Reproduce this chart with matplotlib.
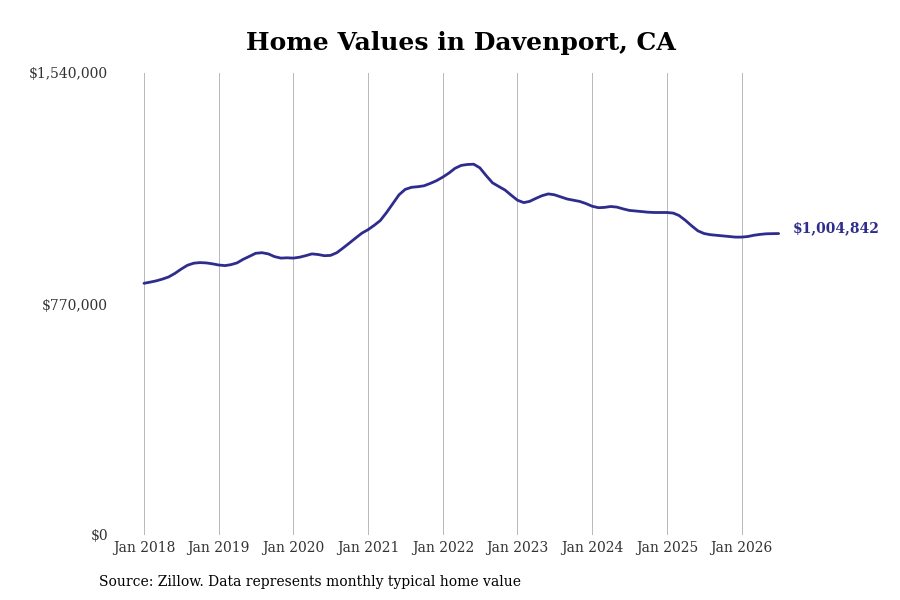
import matplotlib
matplotlib.use("Agg")
import matplotlib.pyplot as plt
import pandas as pd

# monthly typical home value, Jan 2018 .. Jul 2026 (in $ thousands)
months = pd.date_range("2018-01-01", periods=103, freq="MS")
values_k = [
    839, 843, 847, 853, 860, 872, 886, 899, 906, 908, 907, 904,
    900, 898, 901, 907, 919, 929, 939, 941, 937, 928, 923, 924,
    923, 926, 931, 937, 935, 931, 932, 941, 957, 973, 990, 1006,
    1018, 1033, 1048, 1075, 1104, 1134, 1152, 1159, 1161, 1164, 1172, 1181,
    1193, 1207, 1222, 1232, 1235, 1236, 1224, 1198, 1174, 1162, 1150, 1133,
    1116, 1108, 1112, 1122, 1131, 1137, 1134, 1127, 1120, 1116, 1112, 1105,
    1096, 1091, 1092, 1095, 1093, 1087, 1082, 1080, 1078, 1076, 1075, 1075,
    1075, 1073, 1065, 1049, 1031, 1014, 1005, 1001, 999, 997, 995, 993,
    993, 995, 999, 1002, 1004, 1004.5, 1004.842,
]
values = [v * 1000 for v in values_k]

yticks = [0, 770000, 1540000]
ytick_labels = ["$0", "$770,000", "$1,540,000"]
xtick_years = list(range(2018, 2027))

line_color = "#2e2c8c"

plt.rcParams["font.family"] = ["DejaVu Serif"]

fig = plt.figure(figsize=(9, 6), dpi=100)
# axes placed in pixel terms: left 115, right 807, top 73, bottom 535
ax = fig.add_axes([115 / 900, 65 / 600, 692 / 900, 462 / 600])

ax.plot(months, values, color=line_color, linewidth=2, solid_capstyle="round")

# x range chosen so Jan 2018 sits at x=144 and years are ~74.7 px apart
px_per_day = 74.7 / 365.25
start = pd.Timestamp("2018-01-01")
left = start - pd.Timedelta(days=(144 - 115) / px_per_day)
right = start + pd.Timedelta(days=(807 - 144) / px_per_day)
ax.set_xlim(left, right)
ax.set_ylim(0, 1540000)

ax.set_yticks(yticks)
ax.set_yticklabels(ytick_labels)
xt = [pd.Timestamp(f"{y}-01-01") for y in xtick_years]
ax.set_xticks(xt)
ax.set_xticklabels([f"Jan {y}" for y in xtick_years])

ax.tick_params(axis="both", length=0, labelsize=10, labelcolor="#333333")
ax.tick_params(axis="y", pad=5)
ax.tick_params(axis="x", pad=4)
for s in ax.spines.values():
    s.set_visible(False)
ax.grid(axis="x", color="#b8b8b8", linewidth=0.7)
ax.set_axisbelow(True)

ax.annotate(f"${values[-1]:,.0f}", xy=(months[-1], values[-1]),
            xytext=(10, 4), textcoords="offset points",
            color=line_color, fontsize=10, fontweight="bold",
            va="center", ha="left", annotation_clip=False)

fig.text(461 / 900, 1 - 43 / 600, "Home Values in Davenport, CA",
         ha="center", va="center", fontsize=18, fontweight="bold")
fig.text(99 / 900, 1 - 582 / 600,
         "Source: Zillow. Data represents monthly typical home value",
         ha="left", va="center", fontsize=10)

fig.savefig("out.png", dpi=100)
